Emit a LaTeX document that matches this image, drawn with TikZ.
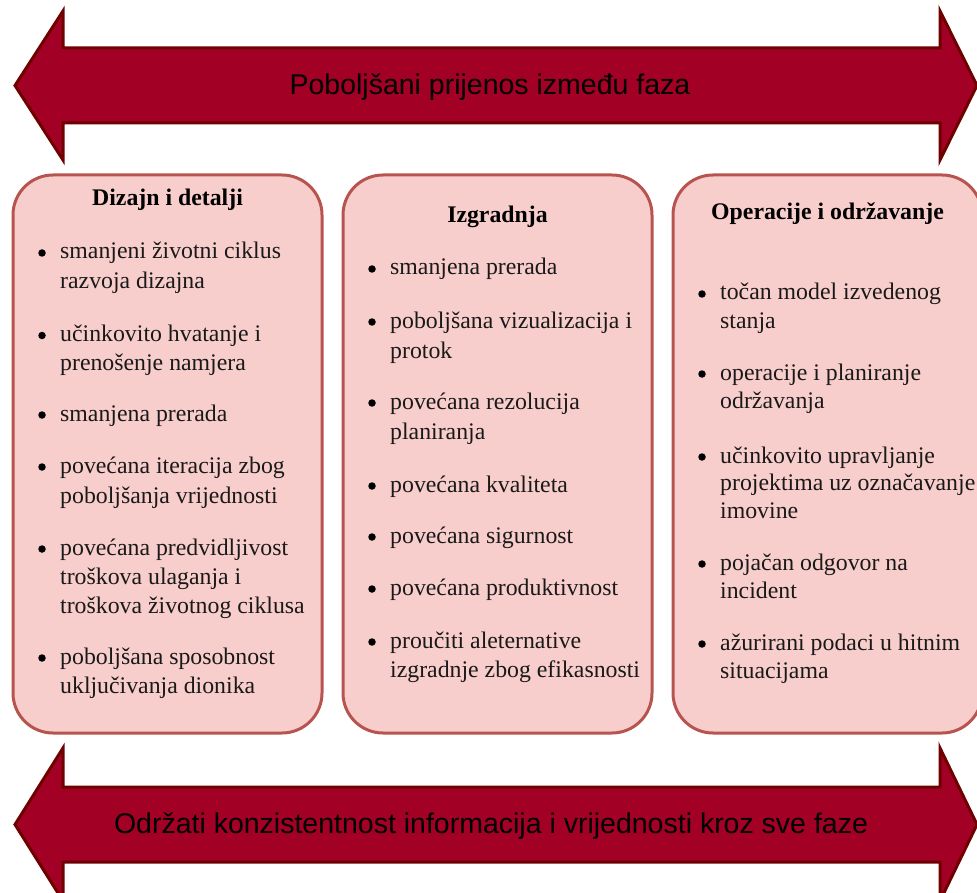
\documentclass[tikz,border=0pt]{standalone}
\usepackage{fontspec}
\setmainfont{Liberation Serif}
\newfontfamily\arrowfont{Liberation Sans}
\definecolor{arrfill}{HTML}{A20025}
\definecolor{arrline}{HTML}{6F0000}
\definecolor{boxfill}{HTML}{F8CECC}
\definecolor{boxline}{HTML}{B85450}
\tikzset{
  bigarrow/.style={fill=arrfill, draw=arrline, line width=3pt, line join=miter},
  phasebox/.style={fill=boxfill, draw=boxline, line width=3pt, rounded corners=40pt},
  arrtext/.style={font=\arrowfont\fontsize{28.5}{33}\selectfont, text=black, inner sep=0pt},
  ttl/.style={anchor=base, inner sep=0pt, font=\bfseries\fontsize{23.8}{29}\selectfont},
  ln/.style={anchor=base west, inner sep=0pt, font=\fontsize{23.8}{29}\selectfont, text=black!90},
  bul/.style={circle, fill=black, inner sep=0pt, minimum size=7.5pt}
}
\begin{document}
\begin{tikzpicture}[x=1pt,y=-1pt]
\useasboundingbox (0,0) rectangle (977,893);
\clip (0,0) rectangle (977,893);
% top arrow
\draw[bigarrow] (15,85.5) -- (63,11) -- (63,48) -- (940,48) -- (940,11) -- (977,85.5)
  -- (940,160) -- (940,123) -- (63,123) -- (63,160) -- cycle;
\node[arrtext] (toptext) at (490,87) {Poboljšani prijenos između faza};
% bottom arrow
\draw[bigarrow] (15,824.5) -- (63,748) -- (63,787) -- (940,787) -- (940,748) -- (977,824.5)
  -- (940,901) -- (940,862) -- (63,862) -- (63,901) -- cycle;
\node[arrtext] (bottext) at (491,826) {Održati konzistentnost informacija i vrijednosti kroz sve faze};
% boxes
\draw[phasebox] (13,175) rectangle (322,733);
\draw[phasebox] (343,175) rectangle (652,733);
\draw[phasebox] (673,175) rectangle (982,733);
% box 1
\node[ttl] (t1) at (167.5,206) {Dizajn i detalji};
\node[bul] (p1a) at (42,253) {};
\node[ln] (l1a) at (60,259) {smanjeni životni ciklus};
\node[ln] (l1b) at (60,288.5) {razvoja dizajna};
\node[bul] (p1b) at (42,335.5) {};
\node[ln] (l1c) at (60,341.5) {učinkovito hvatanje i};
\node[ln] (l1d) at (60,370.5) {prenošenje namjera};
\node[bul] (p1c) at (42,415) {};
\node[ln] (l1e) at (60,421) {smanjena prerada};
\node[bul] (p1d) at (42,467) {};
\node[ln] (l1f) at (60,473) {povećana iteracija zbog};
\node[ln] (l1g) at (60,503) {poboljšanja vrijednosti};
\node[bul] (p1e) at (42,549) {};
\node[ln] (l1h) at (60,555) {povećana predvidljivost};
\node[ln] (l1i) at (60,584.5) {troškova ulaganja i};
\node[ln] (l1j) at (60,613.5) {troškova životnog ciklusa};
\node[bul] (p1f) at (42,658) {};
\node[ln] (l1k) at (60,664) {poboljšana sposobnost};
\node[ln] (l1l) at (60,693) {uključivanja dionika};
% box 2
\node[ttl] (t2) at (497.5,223) {Izgradnja};
\node[bul] (p2a) at (372,269) {};
\node[ln] (l2a) at (390,275) {smanjena prerada};
\node[bul] (p2b) at (372,322) {};
\node[ln] (l2b) at (390,328) {poboljšana vizualizacija i};
\node[ln] (l2c) at (390,358) {protok};
\node[bul] (p2c) at (372,403) {};
\node[ln] (l2d) at (390,409) {povećana rezolucija};
\node[ln] (l2e) at (390,439) {planiranja};
\node[bul] (p2d) at (372,486) {};
\node[ln] (l2f) at (390,492) {povećana kvaliteta};
\node[bul] (p2e) at (372,537) {};
\node[ln] (l2g) at (390,543) {povećana sigurnost};
\node[bul] (p2f) at (372,589) {};
\node[ln] (l2h) at (390,595) {povećana produktivnost};
\node[bul] (p2g) at (372,642) {};
\node[ln] (l2i) at (390,648) {proučiti aleternative};
\node[ln] (l2j) at (390,677) {izgradnje zbog efikasnosti};
% box 3
\node[ttl] (t3) at (827.5,220) {Operacije i održavanje};
\node[bul] (p3a) at (702,294) {};
\node[ln] (l3a) at (720,300) {točan model izvedenog};
\node[ln] (l3b) at (720,328) {stanja};
\node[bul] (p3b) at (702,374) {};
\node[ln] (l3c) at (720,380) {operacije i planiranje};
\node[ln] (l3d) at (720,408) {održavanja};
\node[bul] (p3c) at (702,457) {};
\node[ln] (l3e) at (720,463) {učinkovito upravljanje};
\node[ln] (l3f) at (720,490) {projektima uz označavanje};
\node[ln] (l3g) at (720,518) {imovine};
\node[bul] (p3d) at (702,564) {};
\node[ln] (l3h) at (720,570) {pojačan odgovor na};
\node[ln] (l3i) at (720,598) {incident};
\node[bul] (p3e) at (702,644) {};
\node[ln] (l3j) at (720,650) {ažurirani podaci u hitnim};
\node[ln] (l3k) at (720,678) {situacijama};
\end{tikzpicture}
\end{document}
